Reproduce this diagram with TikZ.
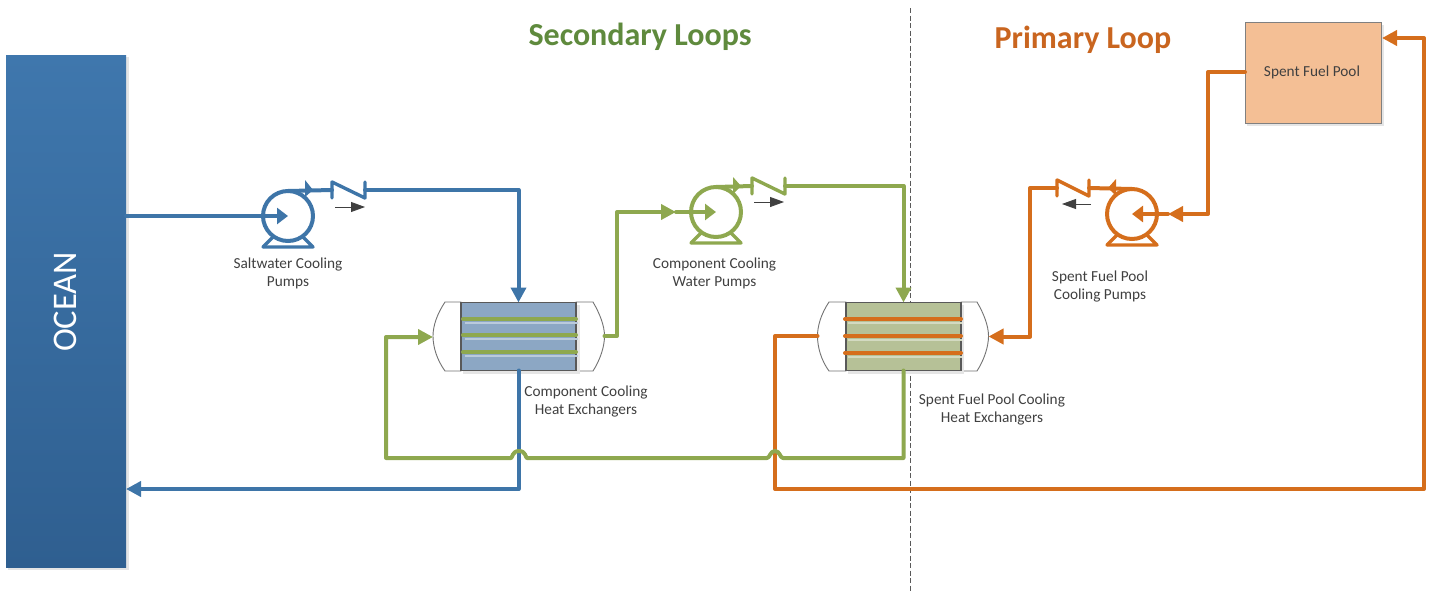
\documentclass[tikz,border=0pt]{standalone}
\usepackage{fontspec}
\setmainfont{Carlito}
\usetikzlibrary{arrows.meta,calc}
\definecolor{bluepipe}{HTML}{3E75A8}
\definecolor{greenpipe}{HTML}{8EA84F}
\definecolor{orangepipe}{HTML}{D56E1C}
\definecolor{labelgray}{HTML}{404040}
\definecolor{titlegreen}{HTML}{5F8A3D}
\definecolor{titleorange}{HTML}{C9651F}
\definecolor{poolfill}{HTML}{F4BF95}
\definecolor{coreblue}{HTML}{8CA7C4}
\definecolor{coregreen}{HTML}{B6C197}
\definecolor{oceantop}{HTML}{3F77AD}
\definecolor{oceanbot}{HTML}{2F5F90}
\tikzset{
  x=1pt,y=-1pt,
  tip/.style={-{Triangle[length=15pt,width=15pt]}},
  tipin/.style={-{Triangle[length=11pt,width=16pt]}},
  pipe/.style={line width=4pt,line join=round,line cap=round},
  bluel/.style={pipe,draw=bluepipe},
  greenl/.style={pipe,draw=greenpipe},
  orangel/.style={pipe,draw=orangepipe},
  pumpbody/.style={circle,minimum size=50pt,inner sep=0pt,outer sep=0pt,line width=4pt,fill=white},
  shell/.style={draw=black!55,line width=0.9pt,fill=white},
  core/.style={rectangle,draw=black!65,line width=1.4pt,minimum height=68pt,inner sep=0pt,outer sep=0pt},
  lab/.style={font=\fontsize{15.3}{18}\selectfont,text=labelgray,align=center,inner sep=0pt},
  title/.style={font=\fontsize{32}{34}\selectfont\bfseries,inner sep=0pt},
  small/.style={draw=black!75,line width=0.8pt,-{Triangle[length=14pt,width=10pt]}},
}
\begin{document}
\begin{tikzpicture}
\useasboundingbox (0,0) rectangle (1435,592);
% ocean
\fill[black!10] (8,57) rectangle (129,570);
\node[rectangle,minimum width=120pt,minimum height=512pt,inner sep=0pt,outer sep=0pt,top color=oceantop,bottom color=oceanbot,draw=none] (ocean) at (66,311) {};
\node[rotate=90,text=white,font=\fontsize{34.5}{36}\selectfont,inner sep=0pt] (oceanlab) at (65,302) {OCEAN};
% spent fuel pool
\fill[black!10] (1247,25) rectangle (1384,126);
\node[rectangle,minimum width=136pt,minimum height=101pt,fill=poolfill,draw=black!50,line width=0.9pt,inner sep=0pt,outer sep=0pt] (pool) at (1313,72.5) {};
\node[lab] (poollab) at (1312,72) {Spent Fuel Pool};
% dashed divider
\coordinate (divtop) at (910.5,8);
\coordinate (divbot) at (910.5,592);
\draw[draw=black!65,line width=1.6pt,dash pattern=on 5pt off 2.5pt] (divtop) -- (divbot);
% heat exchanger 1
\draw[shell] (461,302) -- (445,302) .. controls (437,314) and (433,326) .. (433,336) .. controls (433,347) and (437,360) .. (445,371) -- (461,371) -- cycle;
\draw[shell] (576,302) -- (593,302) .. controls (600,314) and (604.5,326) .. (604.5,336) .. controls (604.5,347) and (600,360) .. (593,371) -- (576,371) -- cycle;
\fill[black!10] (463,305) rectangle (580,374);
\node[core,minimum width=115pt,fill=coreblue] (hxa) at (518.5,336.5) {};
% heat exchanger 2
\draw[shell] (846,302) -- (829,302) .. controls (821,314) and (817.5,326) .. (817.5,336) .. controls (817.5,347) and (821,360) .. (829,371) -- (846,371) -- cycle;
\draw[shell] (961,302) -- (977,302) .. controls (984,314) and (988.5,326) .. (988.5,336) .. controls (988.5,347) and (984,360) .. (977,371) -- (961,371) -- cycle;
\fill[black!10] (848,305) rectangle (964,374);
\node[core,minimum width=115pt,fill=coregreen] (hxb) at (903.5,336.5) {};
% tubes
\foreach \yy in {319,335,352}{
  \draw[coreblue!60!white,line width=2.5pt] (465,\yy+4) -- (578,\yy+4);
  \draw[greenl] (463,\yy) -- (576,\yy);
}
\foreach \yy in {319,336,353}{
  \draw[coregreen!60!white,line width=2.5pt] (848,\yy+4) -- (962,\yy+4);
  \draw[orangel] (845,\yy) -- (961,\yy);
}
% pumps
\node[pumpbody,draw=bluepipe] (pumpa) at (288,216) {};
\node[pumpbody,draw=greenpipe] (pumpb) at (716,212) {};
\node[pumpbody,draw=orangepipe] (pumpc) at (1132,214) {};
\foreach \p/\c in {pumpa/bluel,pumpb/greenl,pumpc/orangel}{
  \draw[\c,line width=3.4pt] ($(\p.center)+(-25,31)$) -- ($(\p.center)+(25,31)$) -- ($(\p.center)+(15,21)$);
  \draw[\c,line width=3.4pt] ($(\p.center)+(-25,31)$) -- ($(\p.center)+(-15,21)$);
}
% valves
\coordinate (va1) at (332,190); \coordinate (va2) at (365,190);
\coordinate (vb1) at (752,186); \coordinate (vb2) at (785,186);
\coordinate (vc1) at (1089,188); \coordinate (vc2) at (1057,188);
% blue loop
\draw[bluel,tipin] (ocean.east |- pumpa) -- (pumpa.center);
\draw[bluel] (pumpa.north) -- (va1);
\coordinate (bluecorner) at (hxa.north |- va2);
\draw[bluel,tip] (va2) -- (bluecorner) -- (hxa.north);
\coordinate (blueret) at (hxa.south |- 0,489);
\draw[bluel,tip] (hxa.south) -- (blueret) -- (ocean.east |- blueret);
% orange loop
\coordinate (oinr) at (1208,214);
\coordinate (ointop) at (1208,72);
\coordinate (oinmid) at (1168,214);
\draw[orangel,tip] (pool.west |- ointop) -- (ointop) -- (oinr) -- (oinmid);
\draw[orangel,tipin] (oinmid) -- (pumpc.center);
\draw[orangel] (pumpc.north) -- (vc1);
\coordinate (oa) at (1030,188);
\coordinate (ob) at (1030,336.5);
\draw[orangel,tip] (vc2) -- (oa) -- (ob) -- (988.5,336.5);
\coordinate (oc) at (775,336);
\coordinate (od) at (775,489);
\coordinate (oe) at (1424,489);
\coordinate (of) at (1424,38);
\coordinate (og) at (1382,38);
\draw[orangel,tip] (817.5,336) -- (oc) -- (od) -- (oe) -- (of) -- (og);
% green loop
\coordinate (ga) at (617,336);
\coordinate (gb) at (617,212);
\coordinate (gc) at (676,212);
\draw[greenl,tip] (604.5,336) -- (ga) -- (gb) -- (gc);
\draw[greenl,tipin] (gc) -- (pumpb.center);
\draw[greenl] (pumpb.north) -- (vb1);
\coordinate (gd) at (hxb.north |- vb2);
\draw[greenl,tip] (vb2) -- (gd) -- (hxb.north);
\coordinate (ge) at (hxb.south |- 0,458);
\coordinate (gf) at (386,458);
\coordinate (gg) at (386,337);
\draw[greenl,tip] (hxb.south) -- (ge) -- (783,458)
  .. controls (780,458) and (780,451) .. (775,451)
  .. controls (770,451) and (770,458) .. (767,458)
  -- (527,458)
  .. controls (525.5,458) and (526,451) .. (519,451)
  .. controls (512,451) and (512.5,458) .. (511,458)
  -- (gf) -- (gg) -- (433,337);
% check valves and flow marks
\foreach \a/\b/\c in {va1/va2/bluel,vb1/vb2/greenl,vc2/vc1/orangel}{
  \draw[\c,line width=3.4pt] ($(\a)+(0,8)$) -- ($(\a)+(0,-8)$) -- ($(\b)+(0,8)$) -- ($(\b)+(0,-8)$);
}
\fill[bluepipe] (305,180) -- (313,190) -- (305,197) -- cycle;
\fill[greenpipe] (733,177) -- (741,186) -- (733,194) -- cycle;
\fill[orangepipe] (1116,179) -- (1108,188) -- (1116,196) -- cycle;
\coordinate (ma1) at (335,207); \coordinate (ma2) at (365,207);
\coordinate (mb1) at (754,202); \coordinate (mb2) at (784,202);
\coordinate (mc1) at (1091,204); \coordinate (mc2) at (1062,204);
\draw[small] (ma1) -- (ma2);
\draw[small] (mb1) -- (mb2);
\draw[small] (mc1) -- (mc2);
% labels
\node[title,text=titlegreen] (sec) at (640,36.5) {Secondary Loops};
\node[title,text=titleorange] (pri) at (1083,39.5) {Primary Loop};
\node[lab] (la) at (288,273) {Saltwater Cooling\\Pumps};
\node[lab] (lb) at (714.5,273) {Component Cooling\\Water Pumps};
\node[lab] (lc) at (586,401) {Component Cooling\\Heat Exchangers};
\node[lab] (ld) at (992,409) {Spent Fuel Pool Cooling\\Heat Exchangers};
\node[lab] (le) at (1100,286) {Spent Fuel Pool\\Cooling Pumps};
\end{tikzpicture}
\end{document}
